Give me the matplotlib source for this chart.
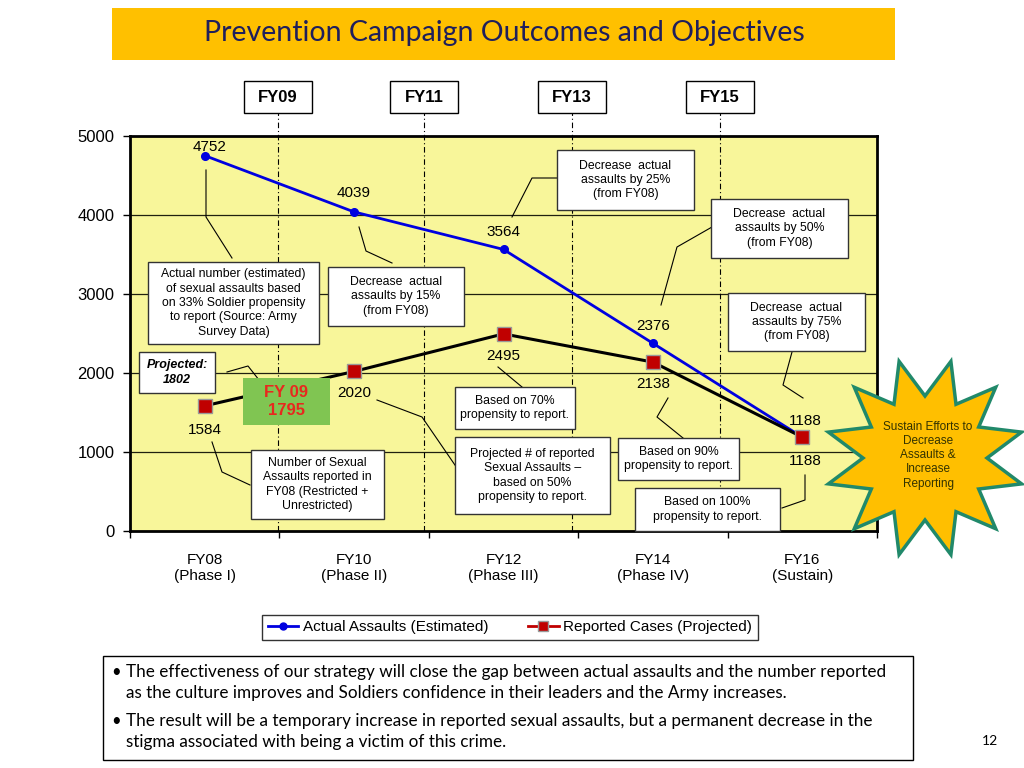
import numpy as np
import matplotlib
matplotlib.use("Agg")
import matplotlib.pyplot as plt
from matplotlib.patches import Rectangle, Polygon
from matplotlib.lines import Line2D

# --- data ---
years = ["FY08\n(Phase I)", "FY10\n(Phase II)", "FY12\n(Phase III)", "FY14\n(Phase IV)", "FY16\n(Sustain)"]
actual = [4752, 4039, 3564, 2376, 1188]
reported = [1584, 2020, 2495, 2138, 1188]
mid_years = ["FY09", "FY11", "FY13", "FY15"]
y_ticks = [0, 1000, 2000, 3000, 4000, 5000]

W, H = 1024, 768
plt.rcParams["font.family"] = ["Liberation Sans", "DejaVu Sans"]

fig = plt.figure(figsize=(W / 100, H / 100), dpi=100)
fig.patch.set_facecolor("white")


def fx(px):
    return px / W


def fy(py):
    return 1 - py / H


def line(pts, lw=0.8, color="black"):
    xs = [fx(p[0]) for p in pts]
    ys = [fy(p[1]) for p in pts]
    fig.add_artist(Line2D(xs, ys, transform=fig.transFigure, color=color, lw=lw, zorder=2))


def note(x0, y0, x1, y1, text, size=8.8, face="white", edge="#333333", color="black",
         weight="normal", style="normal", ls=1.25):
    fig.add_artist(Rectangle((fx(x0), fy(y1)), fx(x1) - fx(x0), fy(y0) - fy(y1),
                             transform=fig.transFigure, facecolor=face, edgecolor=edge,
                             lw=1, zorder=3))
    fig.text((fx(x0) + fx(x1)) / 2, (fy(y0) + fy(y1)) / 2, text, ha="center", va="center",
             fontsize=size, color=color, weight=weight, style=style, linespacing=ls, zorder=4)


# --- title bar ---
fig.add_artist(Rectangle((fx(112), fy(60)), fx(895) - fx(112), fy(8) - fy(60),
                         transform=fig.transFigure, facecolor="#FFC000", edgecolor="none"))
fig.text(fx(504), fy(33), "Prevention Campaign Outcomes and Objectives", ha="center", va="center",
         fontsize=20.5, color="#1F1F5C", family=["Lato", "DejaVu Sans"])

# --- axes ---
ax = fig.add_axes([fx(130), fy(531), fx(877) - fx(130), fy(136) - fy(531)])
ax.set_facecolor("#F8F69A")
x = np.arange(len(years))
ax.set_xlim(-0.5, len(years) - 0.5)
ax.set_ylim(0, 5000)
ax.set_yticks(y_ticks)
ax.set_yticklabels([str(v) for v in y_ticks], fontsize=12)
ax.set_xticks(x)
ax.set_xticklabels(years, fontsize=11)
ax.set_xticks(np.arange(-0.5, len(years)), minor=True)
ax.tick_params(axis="x", which="major", length=0, pad=16)
ax.tick_params(axis="x", which="minor", length=5, width=1, direction="out")
ax.tick_params(axis="y", length=5, width=1, direction="out", pad=6)
for s in ax.spines.values():
    s.set_linewidth(2)
for v in y_ticks[1:-1]:
    ax.axhline(v, color="#202010", lw=0.9, zorder=1)

# dash-dot year dividers and FY boxes (slightly left of the category borders, as drawn)
divider_x = [0.49, 1.47, 2.46, 3.45]
for xd, lab in zip(divider_x, mid_years):
    ax.axvline(xd, ymin=0, ymax=(531 - 113) / (531 - 136), color="black", lw=0.8,
               ls=(0, (5, 2.5, 1, 2.5)), clip_on=False, zorder=1)
    px = 204.7 + xd * 149.4
    note(px - 34, 81, px + 34, 113, lab, size=12, weight="bold", edge="black")

ax.plot(x, actual, color="#0000E0", lw=2, marker="o", ms=5.5, zorder=5)
ax.plot(x, reported, color="black", lw=2.2, marker="s", ms=10, mfc="#C00000",
        mec="#999999", mew=1, zorder=5)

# data labels
a_off = [(5, 9), (0, 19), (0, 17), (0, 17), (3, 16)]
r_off = [(0, -24), (0, -22), (0, -22), (0, -22), (3, -24)]
for i in range(len(years)):
    ax.annotate(str(actual[i]), (x[i], actual[i]), xytext=a_off[i], textcoords="offset pixels",
                ha="center", va="center", fontsize=11, zorder=6)
    ax.annotate(str(reported[i]), (x[i], reported[i]), xytext=r_off[i], textcoords="offset pixels",
                ha="center", va="center", fontsize=11, zorder=6)

# --- callouts ---
note(148, 262, 319, 344, "Actual number (estimated)\nof sexual assaults based\non 33% Soldier propensity\nto report (Source: Army\nSurvey Data)")
line([(206, 170), (206, 217), (232, 258)])
note(328, 267, 464, 326, "Decrease  actual\nassaults by 15%\n(from FY08)")
line([(359, 227), (366, 251), (392, 263)])
note(557, 150, 694, 210, "Decrease  actual\nassaults by 25%\n(from FY08)")
line([(512, 217), (532, 178), (557, 178)])
note(711, 199, 848, 258, "Decrease  actual\nassaults by 50%\n(from FY08)")
line([(661, 305), (677, 247), (712, 227)])
note(728, 293, 865, 351, "Decrease  actual\nassaults by 75%\n(from FY08)")
line([(792, 352), (783, 385), (803, 398)])
note(139, 352, 215, 393, "Projected:\n1802", size=9, weight="bold", style="italic")
line([(227, 372), (248, 366), (263, 385)])
note(243, 378, 330, 425, "FY 09\n1795", size=12, face="#80C552", edge="none",
     color="#E8281E", weight="bold")
note(251, 450, 384, 519, "Number of Sexual\nAssaults reported in\nFY08 (Restricted +\nUnrestricted)")
line([(212, 442), (222, 472), (250, 485)])
note(455, 387, 575, 429, "Based on 70%\npropensity to report.")
line([(498, 367), (522, 387)])
note(455, 437, 610, 514, "Projected # of reported\nSexual Assaults \u2013\nbased on 50%\npropensity to report.")
line([(377, 400), (422, 417), (457, 468)])
note(618, 438, 739, 480, "Based on 90%\npropensity to report.")
line([(668, 398), (657, 417), (683, 438)])
note(635, 488, 780, 531, "Based on 100%\npropensity to report.")
line([(805, 475), (805, 500), (782, 508)])

# --- starburst ---
cx, cy = 925, 458
ang = np.deg2rad(np.arange(24) * 15 + 15)
rad = np.where(np.arange(24) % 2 == 0, 100, 62)
star = [(fx(cx + r * np.cos(a)), fy(cy - r * np.sin(a))) for r, a in zip(rad, ang)]
fig.add_artist(Polygon(star, closed=True, transform=fig.transFigure, facecolor="#FFBF00",
                       edgecolor="#21896A", lw=2.5, zorder=7))
fig.text(fx(928), fy(455), "Sustain Efforts to\nDecrease\nAssaults &\nIncrease\nReporting",
         ha="center", va="center", fontsize=8.5, color="#333300", linespacing=1.25, zorder=8)

# --- legend ---
handles = [Line2D([], [], color="#0000E0", lw=2, marker="o", ms=5),
           Line2D([], [], color="#C00000", lw=2, marker="s", ms=7, mfc="#C00000", mec="#999999")]
leg = fig.legend(handles, ["Actual Assaults (Estimated)", "Reported Cases (Projected)"],
                 loc="center", bbox_to_anchor=(fx(510), fy(627.5)), ncol=2, fontsize=11,
                 frameon=True, fancybox=False, edgecolor="black", handlelength=2,
                 columnspacing=2.6, borderpad=0.35, handletextpad=0.3, borderaxespad=0)
leg.get_frame().set_linewidth(1)
leg._legend_box.sep = 0
for t in leg.get_texts():
    t.set_fontsize(11)

# --- bottom text ---
fig.add_artist(Rectangle((fx(103), fy(760)), fx(913) - fx(103), fy(656) - fy(760),
                         transform=fig.transFigure, facecolor="white", edgecolor="black", lw=1))
bullets = [("The effectiveness of our strategy will close the gap between actual assaults and the number reported",
            "as the culture improves and Soldiers confidence in their leaders and the Army increases."),
           ("The result will be a temporary increase in reported sexual assaults, but a permanent decrease in the",
            "stigma associated with being a victim of this crime.")]
tops = [672, 721]
for (l1, l2), ty in zip(bullets, tops):
    fig.text(fx(111), fy(ty), "\u2022", fontsize=12, va="center", family=["Lato", "DejaVu Sans"])
    fig.text(fx(126), fy(ty), l1, fontsize=12.3, va="center", family=["Lato", "DejaVu Sans"])
    fig.text(fx(126), fy(ty + 21), l2, fontsize=12.3, va="center", family=["Lato", "DejaVu Sans"])
fig.text(fx(990), fy(741), "12", fontsize=10, ha="center", va="center", family=["Lato", "DejaVu Sans"])

fig.savefig("out.png", dpi=100)
